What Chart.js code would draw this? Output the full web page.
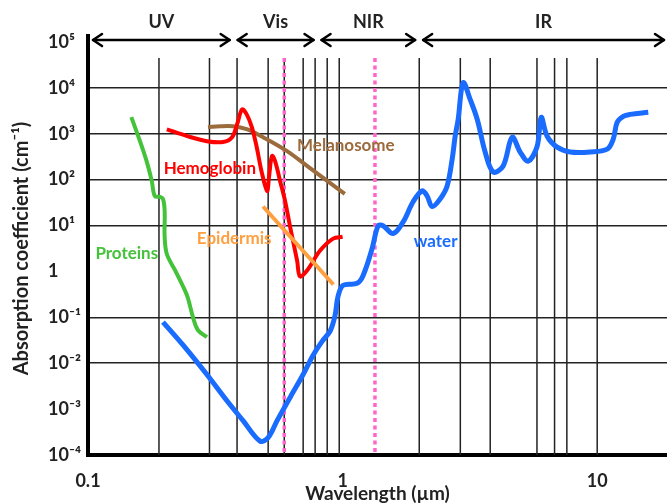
<!DOCTYPE html>
<html>
<head>
<meta charset="utf-8">
<script src="https://cdn.jsdelivr.net/npm/chart.js@4.4.1/dist/chart.umd.min.js"></script>
<style>
  html, body { margin: 0; padding: 0; background: #fff; }
  #wrap { width: 667px; height: 504px; }
</style>
</head>
<body>
<div id="wrap"><canvas id="grafico" width="667" height="504"></canvas></div>
<script>
// ================== DADOS ==================
// comprimento de onda (µm) e coeficiente de absorção (cm^-1)
const waterX = [0.197, 0.236, 0.2935, 0.352, 0.4065, 0.474, 0.51, 0.553, 0.622, 0.699, 0.766, 0.831, 0.893, 0.934, 0.96, 1.005, 1.14, 1.204, 1.306, 1.379, 1.442, 1.579, 1.729, 1.892, 2.053, 2.148, 2.247, 2.416, 2.574, 2.694, 2.768, 2.844, 2.975, 3.17, 3.378, 3.63, 3.904, 4.272, 4.634, 4.983, 5.357, 5.81, 6.025, 6.36, 6.96, 7.83, 9.39, 10.95, 11.56, 11.98, 12.66, 13.48, 15.87];
const waterY = [0.079, 0.025, 0.0056, 0.0015, 0.00056, 0.0002, 0.00024, 0.00056, 0.0018, 0.0056, 0.015, 0.03, 0.05, 0.11, 0.29, 0.5, 0.55, 0.82, 3.15, 9.9, 9.9, 6.7, 12, 33, 57, 44, 26, 38, 73, 280, 885, 2070, 13000, 5600, 2070, 400, 147, 198, 840, 400, 254, 537, 2285, 885, 511, 400, 400, 463, 762, 1780, 2400, 2650, 2930];

const hemoX = [0.204, 0.245, 0.293, 0.339, 0.368, 0.385, 0.403, 0.42, 0.44, 0.46, 0.48, 0.505, 0.514, 0.528, 0.543, 0.568, 0.594, 0.622, 0.663, 0.68, 0.725, 0.816, 0.918, 1.0];
const hemoY = [1250, 890, 690, 660, 840, 1600, 3400, 2650, 1400, 510, 155, 57, 114, 330, 255, 94, 35, 9.4, 1.7, 0.78, 1.05, 2.85, 5.2, 5.7];

const melanoX = [0.296, 0.33, 0.371, 0.42, 0.487, 0.605, 0.725, 0.87, 1.02];
const melanoY = [1390, 1460, 1460, 1260, 840, 420, 200, 94, 49];

const epidermX = [0.487, 0.92];
const epidermY = [26, 0.52];

const protX = [0.148, 0.16, 0.17, 0.178, 0.183, 0.192, 0.197, 0.2, 0.2, 0.204, 0.22, 0.24, 0.247, 0.259, 0.27, 0.293];
const protY = [2300, 690, 250, 94, 44, 42, 38, 21, 5.7, 2.4, 1.05, 0.39, 0.26, 0.096, 0.053, 0.037];

const xTicks = [0.1, 1, 10];
const yTicks = [1e-4, 1e-3, 1e-2, 1e-1, 1, 1e1, 1e2, 1e3, 1e4, 1e5];
const yGrid = [1e-2, 1e-1, 1e1, 1e2, 1e3, 1e4];
const xGrid = [0.19, 0.3, 0.385, 0.51, 0.59, 0.7, 0.78, 0.87, 0.97, 2, 2.9, 3.8, 5.8, 6.8, 7.6, 10];
const marcadores = [0.59, 1.34];

// faixas espectrais (início, fim)
const faixas = [
  { nome: "UV", de: 0.1, ate: 0.37 },
  { nome: "Vis", de: 0.37, ate: 0.79 },
  { nome: "NIR", de: 0.79, ate: 1.98 },
  { nome: "IR", de: 1.98, ate: 18.8 }
];

// rótulos das curvas (ancorados em coordenadas de dados)
const rotulos = [
  { texto: "Proteins", x: 0.142, y: 2.5, cor: "#44c23a" },
  { texto: "Hemoglobin", x: 0.301, y: 171, cor: "#ff0000" },
  { texto: "Melanosome", x: 1.03, y: 565, cor: "#9c6b3c" },
  { texto: "Epidermis", x: 0.375, y: 5.2, cor: "#ffa040" },
  { texto: "water", x: 2.32, y: 4.47, cor: "#1a6cff" }
];

const FONTE = "Lato, 'DejaVu Sans', sans-serif";

function pares(xs, ys) {
  return xs.map((x, i) => ({ x: x, y: ys[i] }));
}

const sup = { "-": "⁻", "0": "⁰", "1": "¹", "2": "²", "3": "³", "4": "⁴", "5": "⁵" };
function potencia(v) {
  const e = Math.round(Math.log10(v));
  if (e === 0) return "1";
  return "10" + String(e).split("").map(c => sup[c]).join("");
}

// ================== PLUGIN: GRADE, MARCADORES, SETAS ==================
const extras = {
  id: "extras",
  beforeDatasetsDraw(chart) {
    const { ctx, chartArea, scales: { x } } = chart;
    const topo = 58;
    ctx.save();
    ctx.strokeStyle = "#222";
    ctx.lineWidth = 1.5;
    xGrid.forEach(v => {
      const px = x.getPixelForValue(v);
      ctx.beginPath();
      ctx.moveTo(px, topo);
      ctx.lineTo(px, chartArea.bottom);
      ctx.stroke();
    });
    ctx.strokeStyle = "#ff66cc";
    ctx.lineWidth = 3.5;
    ctx.setLineDash([4, 3.5]);
    marcadores.forEach(v => {
      const px = x.getPixelForValue(v);
      ctx.beginPath();
      ctx.moveTo(px, topo);
      ctx.lineTo(px, chartArea.bottom - 2);
      ctx.stroke();
    });
    ctx.restore();
  },
  afterDraw(chart) {
    const { ctx, chartArea, scales: { x, y } } = chart;
    ctx.save();
    // prolonga o eixo y até as setas
    ctx.fillStyle = "#000";
    ctx.fillRect(chartArea.left - 2, 34, 4, chartArea.top - 34 + 2);
    // setas das faixas
    const ySeta = 40;
    ctx.strokeStyle = "#000";
    ctx.lineWidth = 2.5;
    ctx.lineCap = "round";
    ctx.lineJoin = "round";
    faixas.forEach(f => {
      const a = x.getPixelForValue(f.de) + 5;
      const b = Math.min(x.getPixelForValue(f.ate), chart.width) - 3;
      ctx.beginPath();
      ctx.moveTo(a, ySeta);
      ctx.lineTo(b, ySeta);
      ctx.stroke();
      ctx.beginPath();
      ctx.moveTo(a + 9, ySeta - 6);
      ctx.lineTo(a, ySeta);
      ctx.lineTo(a + 9, ySeta + 6);
      ctx.stroke();
      ctx.beginPath();
      ctx.moveTo(b - 9, ySeta - 6);
      ctx.lineTo(b, ySeta);
      ctx.lineTo(b - 9, ySeta + 6);
      ctx.stroke();
      ctx.font = "bold 18px " + FONTE;
      ctx.textAlign = "center";
      ctx.textBaseline = "middle";
      ctx.fillStyle = "#222";
      ctx.fillText(f.nome, (a + b) / 2, 22);
    });
    // rótulos
    ctx.font = "bold 17px " + FONTE;
    ctx.textAlign = "center";
    ctx.textBaseline = "middle";
    rotulos.forEach(r => {
      ctx.fillStyle = r.cor;
      ctx.fillText(r.texto, x.getPixelForValue(r.x), y.getPixelForValue(r.y));
    });
    ctx.restore();
  }
};

// ================== GRÁFICO ==================
const serie = (rotulo, xs, ys, cor, largura) => ({
  label: rotulo,
  data: pares(xs, ys),
  showLine: true,
  borderColor: cor,
  borderWidth: largura,
  pointRadius: 0,
  tension: 0.35,
  fill: false
});

const ctx = document.getElementById("grafico").getContext("2d");
const grafico = new Chart(ctx, {
  type: "scatter",
  data: {
    datasets: [
      serie("Proteins", protX, protY, "#44c23a", 4),
      serie("Epidermis", epidermX, epidermY, "#ffa040", 4),
      serie("Hemoglobin", hemoX, hemoY, "#ff0000", 4),
      serie("Melanosome", melanoX, melanoY, "#9c6b3c", 4),
      serie("water", waterX, waterY, "#1a6cff", 5)
    ]
  },
  options: {
    responsive: false,
    animation: false,
    devicePixelRatio: 1,
    layout: { padding: { left: 48, top: 42, right: 0, bottom: 0 } },
    plugins: {
      legend: { display: false },
      tooltip: { enabled: false }
    },
    scales: {
      x: {
        type: "logarithmic",
        min: 0.1,
        max: 18.8,
        afterBuildTicks: s => { s.ticks = xTicks.map(v => ({ value: v })); },
        afterFit: s => { s.height = 49; },
        grid: { display: false },
        border: { display: true, color: "#000", width: 4 },
        ticks: {
          autoSkip: false,
          maxRotation: 0,
          padding: 7,
          color: "#222",
          font: { family: FONTE, size: 18, weight: "bold" },
          callback: v => String(v)
        },
        title: {
          display: true,
          text: "Wavelength (µm)",
          color: "#222",
          padding: { top: 0, bottom: -1 },
          font: { family: FONTE, size: 19, weight: "bold" }
        }
      },
      y: {
        type: "logarithmic",
        min: 1e-4,
        max: 1e5,
        afterBuildTicks: s => { s.ticks = yTicks.map(v => ({ value: v })); },
        afterFit: s => { s.width = 40; },
        grid: {
          drawTicks: false,
          lineWidth: 1.5,
          color: c => (c.tick && yGrid.some(g => Math.abs(Math.log10(g) - Math.log10(c.tick.value)) < 1e-6)) ? "#222" : "rgba(0,0,0,0)"
        },
        border: { display: true, color: "#000", width: 4 },
        ticks: {
          autoSkip: false,
          crossAlign: "far",
          padding: 0,
          color: "#222",
          font: { family: FONTE, size: 18, weight: "bold" },
          callback: v => potencia(v)
        },
        title: {
          display: true,
          text: "Absorption coefficient (cm⁻¹)",
          color: "#222",
          padding: { top: -38, bottom: 0 },
          font: { family: FONTE, size: 20, weight: "bold" }
        }
      }
    }
  },
  plugins: [extras]
});
</script>
</body>
</html>
